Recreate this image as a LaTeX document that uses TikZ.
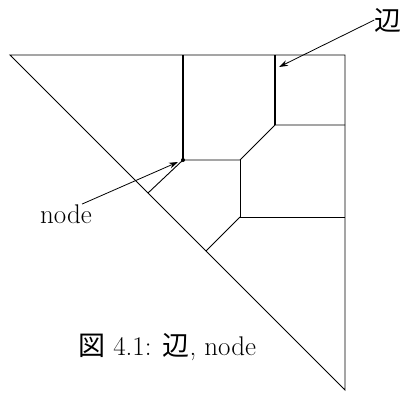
\documentclass[tikz,border=0pt]{standalone}
\usepackage{fontspec}
\newfontfamily\cjk{Noto Sans CJK JP}
\usetikzlibrary{arrows.meta}
\begin{document}
\begin{tikzpicture}[x=1pt,y=-1pt,
  edge/.style={line width=0.9pt},
  boldedge/.style={line width=1.5pt},
  pointer/.style={line width=0.8pt,-{Stealth[length=9pt,width=6pt]}},
  lab/.style={font=\fontsize{27}{32}\selectfont, inner sep=0pt}]
\useasboundingbox (0,0) rectangle (402,394);
\coordinate (A) at (10,55);
\coordinate (B) at (345,55);
\coordinate (C) at (345,390);
\coordinate (P1) at (183,55);
\coordinate (N) at (183,160);
\coordinate (P2) at (275,55);
\coordinate (Q) at (275,125);
\coordinate (R) at (345,125);
\coordinate (S) at (240,160);
\coordinate (T) at (240,217);
\coordinate (U) at (345,217);
\coordinate (V) at (148,193);
\coordinate (W) at (206,251);
\coordinate (eTip) at (279,67);
\coordinate (nTip) at (178,162);
% triangle
\draw[edge] (A) -- (B) -- (C) -- cycle;
% interior edges
\draw[boldedge] (P1) -- (N);
\draw[boldedge] (P2) -- (Q);
\draw[edge] (N) -- (S) -- (Q) -- (R);
\draw[edge] (N) -- (V);
\draw[edge] (S) -- (T) -- (U);
\draw[edge] (T) -- (W);
\fill (N) circle (2pt);
% labels
\node[lab] (elab) at (388,20) {\cjk 辺};
\draw[pointer] (elab.west) -- (eTip);
\node[lab, anchor=base west] (nlab) at (40,223) {node};
\draw[pointer] ([xshift=-10pt]nlab.north east) -- (nTip);
\node[lab, anchor=base west] (cap) at (78,355) {{\cjk 図} 4.1: {\cjk 辺}, node};
\end{tikzpicture}
\end{document}
